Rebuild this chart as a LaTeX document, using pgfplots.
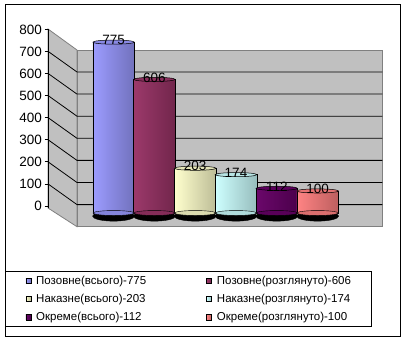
\documentclass[border=0pt]{standalone}
\usepackage{pgfplots}
\pgfplotsset{compat=1.18}
\usepackage{fontspec}
\setmainfont{Liberation Sans}
\definecolor{c1}{HTML}{9999FF}
\definecolor{c2}{HTML}{993366}
\definecolor{c3}{HTML}{FFFFCC}
\definecolor{c4}{HTML}{CCFFFF}
\definecolor{c5}{HTML}{660066}
\definecolor{c6}{HTML}{FF8080}
\definecolor{wallgray}{HTML}{C0C0C0}
\definecolor{walledge}{HTML}{808080}
\pgfplotsset{
  legsq/.style={legend image code/.code={\draw[fill=#1,draw=black,line width=0.5pt] (0pt,-2.6pt) rectangle (5.2pt,2.6pt);}},
  cyl/.style={ybar, bar width=41.5pt, bar shift=0pt, draw=black, line width=0.5pt,
    left color=#1!97!white, right color=#1!74!black, legsq=#1},
  topcap/.style={forget plot, only marks, mark=*, mark size=20.75pt,
    mark options={yscale=0.1, fill=#1!90!black, draw=black, line width=0.5pt}, nodes near coords},
  botcap/.style={forget plot, only marks, mark=*, mark size=20.5pt,
    mark options={yscale=0.12, fill=#1!86!black, draw=none}},
}
\begin{document}
\begin{tikzpicture}
\useasboundingbox (0pt,0pt) rectangle (407pt,-342pt);
\begin{scope}[x=1pt,y=-1pt]
  \fill[white] (0,0) rectangle (407,342);
  % side wall
  \filldraw[fill=wallgray, draw=walledge, line width=0.8pt] (48,29) -- (77,50) -- (77,226.7) -- (48,208) -- cycle;
  % back wall
  \filldraw[fill=wallgray, draw=walledge, line width=0.8pt] (77,50) rectangle (382.3,226.7);
  \foreach \k in {1,...,7} {
    \draw[black, line width=0.8pt] (48,206-22.1*\k) -- (77,226.7-22.1*\k) -- (382.3,226.7-22.1*\k);
  }
  \draw[black, line width=0.8pt] (48,29) -- (48,208);
  \foreach \k in {0,...,8} {\draw[black, line width=0.8pt] (44.5,206-22.1*\k) -- (48,206-22.1*\k);}
  \draw[black, line width=1pt] (5,5) rectangle (400,336.5);
\end{scope}
\begin{axis}[
  at={(48pt,-226.7pt)}, anchor=south west,
  x=1pt, y=0.2205pt,
  xmin=48, xmax=382.3, ymin=-62.1, ymax=834.5,
  enlargelimits=false, clip=false,
  axis line style={draw=none},
  xtick=\empty,
  ytick={0,100,...,800},
  major tick length=0pt,
  yticklabel style={font=\fontsize{13.5}{13.5}\selectfont, inner sep=0pt, xshift=-6pt, yshift=7pt},
  /pgf/number format/assume math mode=true,
  every node near coord/.append style={font=\fontsize{13.5}{13.5}\selectfont, anchor=center, yshift=2pt, black},
  legend columns=2,
  legend cell align=left,
  legend style={at={(-0.1286,-0.2226)}, anchor=north west, draw=black, line width=1pt,
    font=\fontsize{11.5}{13}\selectfont, inner xsep=20pt, inner ysep=4.5pt,
    nodes={inner sep=0pt}, row sep=8.5pt,
    /tikz/every odd column/.append style={column sep=5pt},
    /tikz/every even column/.append style={column sep=60pt}},
]
% shadows under the cylinders
\addplot[only marks, forget plot, mark=*, mark size=21pt, mark options={fill=black, draw=black, yscale=0.24}]
  coordinates {(113.6,-14) (154.4,-14) (195.2,-14) (236.0,-14) (276.8,-14) (317.6,-14)};
% cylinders
\addplot[cyl=c1] coordinates {(113.6,775)};
\addlegendentry{Позовне(всього)-775}
\addplot[botcap=c1] coordinates {(113.6,0)};
\addplot[topcap=c1] coordinates {(113.6,775)};
\addplot[cyl=c2] coordinates {(154.4,606)};
\addlegendentry{Позовне(розглянуто)-606}
\addplot[botcap=c2] coordinates {(154.4,0)};
\addplot[topcap=c2] coordinates {(154.4,606)};
\addplot[cyl=c3] coordinates {(195.2,203)};
\addlegendentry{Наказне(всього)-203}
\addplot[botcap=c3] coordinates {(195.2,0)};
\addplot[topcap=c3] coordinates {(195.2,203)};
\addplot[cyl=c4] coordinates {(236.0,174)};
\addlegendentry{Наказне(розглянуто)-174}
\addplot[botcap=c4] coordinates {(236.0,0)};
\addplot[topcap=c4] coordinates {(236.0,174)};
\addplot[cyl=c5] coordinates {(276.8,112)};
\addlegendentry{Окреме(всього)-112}
\addplot[botcap=c5] coordinates {(276.8,0)};
\addplot[topcap=c5] coordinates {(276.8,112)};
\addplot[cyl=c6] coordinates {(317.6,100)};
\addlegendentry{Окреме(розглянуто)-100}
\addplot[botcap=c6] coordinates {(317.6,0)};
\addplot[topcap=c6] coordinates {(317.6,100)};
\end{axis}
\end{tikzpicture}
\end{document}
